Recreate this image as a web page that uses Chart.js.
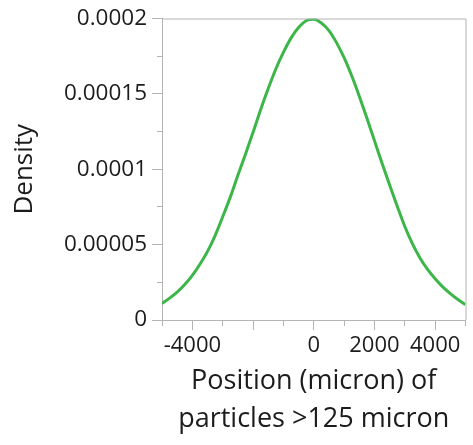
<!DOCTYPE html>
<html>
<head>
<meta charset="utf-8">
<script src="https://cdn.jsdelivr.net/npm/chart.js@4"></script>
<style>
  html, body { margin: 0; padding: 0; background: #ffffff; }
  #wrap { width: 473px; height: 445px; position: relative; }
</style>
</head>
<body>
<div id="wrap"><canvas id="chart"></canvas></div>
<script>
// Fitted normal density of particle position
const positions = [-5000, -4750, -4500, -4250, -4000, -3750, -3500, -3250, -3000, -2750, -2500,
                   -2250, -2000, -1750, -1500, -1250, -1000, -750, -500, -250, 0,
                   250, 500, 750, 1000, 1250, 1500, 1750, 2000, 2250, 2500,
                   2750, 3000, 3250, 3500, 3750, 4000, 4250, 4500, 4750, 5000];
const density = [0.0000110, 0.0000145, 0.0000185, 0.0000235, 0.0000296, 0.0000370, 0.0000455,
                 0.0000560, 0.0000685, 0.0000815, 0.0000960, 0.0001100, 0.0001245, 0.0001395,
                 0.0001535, 0.0001665, 0.0001775, 0.0001870, 0.0001940, 0.0001985, 0.0001995,
                 0.0001970, 0.0001920, 0.0001840, 0.0001740, 0.0001620, 0.0001485, 0.0001340,
                 0.0001190, 0.0001040, 0.0000895, 0.0000755, 0.0000620, 0.0000507, 0.0000412,
                 0.0000336, 0.0000274, 0.0000220, 0.0000175, 0.0000136, 0.0000102];

const xTickLabels = [-4000, 0, 2000, 4000];
const yTickLabels = ['0', '0.00005', '0.0001', '0.00015', '0.0002'];

const axisGray = '#b4b4b4';
const textColor = '#1c1c1c';
const fontFamily = '"Open Sans", "Noto Sans", sans-serif';

// draws the gray frame around the plot area
const framePlugin = {
  id: 'frame',
  afterDraw(chart) {
    const {ctx, chartArea: a} = chart;
    ctx.save();
    ctx.strokeStyle = axisGray;
    ctx.lineWidth = 1;
    ctx.beginPath();
    ctx.moveTo(a.left, a.top + 0.5);
    ctx.lineTo(a.right + 0.5, a.top + 0.5);
    ctx.lineTo(a.right + 0.5, a.bottom);
    ctx.stroke();
    ctx.restore();
  }
};

new Chart(document.getElementById('chart'), {
  type: 'line',
  data: {
    datasets: [{
      data: positions.map((x, i) => ({x, y: density[i]})),
      borderColor: '#3cb648',
      borderWidth: 3,
      pointRadius: 0,
      cubicInterpolationMode: 'monotone',
      fill: false
    }]
  },
  options: {
    responsive: true,
    maintainAspectRatio: false,
    animation: false,
    plugins: { legend: { display: false }, tooltip: { enabled: false } },
    layout: { padding: { top: 16, right: 7.5, left: 0, bottom: 0 } },
    scales: {
      x: {
        type: 'linear',
        min: -5000,
        max: 5000,
        afterFit(s) { s.height = 125; },
        border: { color: axisGray, width: 1 },
        grid: {
          drawOnChartArea: false,
          drawTicks: true,
          tickLength: 10,
          tickColor: axisGray,
          tickBorderDash: ctx => (Math.round(ctx.tick.value / 1000) % 2 !== 0 ? [5, 100] : []),
          tickBorderDashOffset: 0
        },
        ticks: {
          stepSize: 1000,
          autoSkip: false,
          maxRotation: 0,
          padding: 3,
          color: textColor,
          font: { family: fontFamily, size: 22 },
          callback: v => (xTickLabels.includes(Math.round(v)) ? String(Math.round(v)) : '')
        },
        title: {
          display: true,
          text: ['Position (micron) of', 'particles >125 micron'],
          color: textColor,
          font: { family: fontFamily, size: 27, lineHeight: '38px' },
          padding: { top: 0, bottom: 7 }
        }
      },
      y: {
        min: 0,
        max: 0.0002,
        afterFit(s) { s.width = 162; },
        border: { color: axisGray, width: 1 },
        grid: {
          drawOnChartArea: false,
          drawTicks: true,
          tickLength: 10,
          tickColor: axisGray,
          tickBorderDash: ctx => (Math.round(ctx.tick.value / 0.000025) % 2 !== 0 ? [5, 5] : []),
          tickBorderDashOffset: 5
        },
        ticks: {
          stepSize: 0.000025,
          autoSkip: false,
          padding: 5,
          color: textColor,
          font: { family: fontFamily, size: 22.5 },
          callback: v => {
            const k = Math.round(v / 0.000025);
            return k % 2 === 0 ? yTickLabels[k / 2] : '';
          }
        },
        title: {
          display: true,
          text: 'Density',
          color: textColor,
          font: { family: fontFamily, size: 26, lineHeight: 1.2 },
          padding: { top: 9, bottom: 0 }
        }
      }
    }
  },
  plugins: [framePlugin]
});
</script>
</body>
</html>
